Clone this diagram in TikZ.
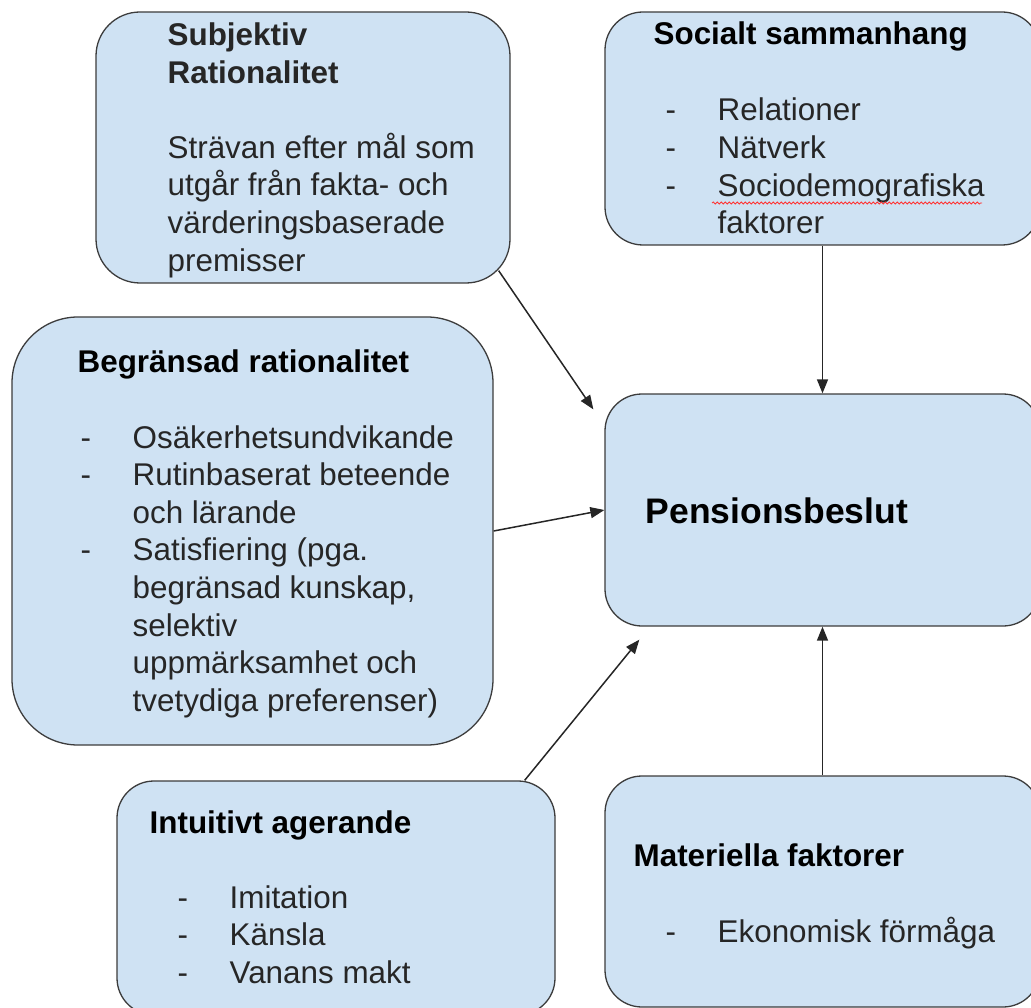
\documentclass[tikz,border=0pt]{standalone}
\usepackage{fontspec}
\setmainfont{Liberation Sans}
\usetikzlibrary{arrows.meta,decorations.pathmorphing}
\definecolor{boxfill}{HTML}{CFE2F3}
\definecolor{boxline}{HTML}{3C3C3C}
\definecolor{inkcol}{HTML}{262626}
\newcommand{\bul}{\makebox[52pt][l]{-}}
\newcommand{\ind}{\hspace*{52pt}}

\begin{document}
\begin{tikzpicture}[
        x=1pt, y=-1pt,
        line width=1.3pt,
        >={Triangle[length=14pt,width=11pt]}
    ]
    \tikzset{
        infobox/.style = {rectangle, draw=boxline, fill=boxfill, inner sep=0pt},
        boxtext/.style = {anchor=base west, inner sep=0pt, align=left, text=inkcol, font=\fontsize{31.4pt}{37.6pt}\selectfont},
        boxtitle/.style = {boxtext, text=black, font=\fontsize{31.4pt}{37.6pt}\selectfont\bfseries},
        link/.style = {->, draw=inkcol, line width=1.5pt},
    }
    \useasboundingbox (0,0) rectangle (1031,1008);
    \clip (0,0) rectangle (1031,1008);
    \node[infobox, rounded corners=44pt, minimum width=414pt, minimum height=271pt] (subj) at (303,147.5) {};
    \node[infobox, rounded corners=38pt, minimum width=435pt, minimum height=233pt] (soc) at (822.5,128.5) {};
    \node[infobox, rounded corners=66pt, minimum width=481pt, minimum height=428pt] (begr) at (252.5,531) {};
    \node[infobox, rounded corners=37pt, minimum width=435pt, minimum height=232pt] (pens) at (822.5,510) {};
    \node[infobox, rounded corners=37pt, minimum width=438pt, minimum height=234pt] (intu) at (336,898) {};
    \node[infobox, rounded corners=37pt, minimum width=435pt, minimum height=231pt] (mat) at (822.5,891.5) {};

    % multi-line nodes sit on the baseline of their last line
    \node[boxtext] (subjtxt) at (167,271.1) {\textbf{Subjektiv}\\\textbf{Rationalitet}\\[37.6pt]Strävan efter mål som\\utgår från fakta- och\\värderingsbaserade\\premisser};
    \node[boxtitle] (soctitle) at (653,45) {Socialt sammanhang};
    \node[boxtext] (soclist) at (665,233.8) {\bul Relationer\\\bul Nätverk\\\bul Sociodemografiska\\\ind faktorer};
    \node[boxtitle] (begrtitle) at (77,372.5) {Begränsad rationalitet};
    \node[boxtext] (begrlist) at (80,711.2) {\bul Osäkerhetsundvikande\\\bul Rutinbaserat beteende\\\ind och lärande\\\bul Satisfiering (pga.\\\ind begränsad kunskap,\\\ind selektiv\\\ind uppmärksamhet och\\\ind tvetydiga preferenser)};
    \node[boxtitle, font=\fontsize{35.5pt}{42pt}\selectfont\bfseries] (penstitle) at (645,523) {Pensionsbeslut};
    \node[boxtitle] (intutitle) at (149,833) {Intuitivt agerande};
    \node[boxtext] (intulist) at (177,983.2) {\bul Imitation\\\bul Känsla\\\bul Vanans makt};
    \node[boxtitle] (mattitle) at (633,866) {Materiella faktorer};
    \node[boxtext] (matlist) at (665,942) {\bul Ekonomisk förmåga};

    \draw[red!80, line width=0.8pt, decorate, decoration={snake, segment length=4pt, amplitude=1pt}] (712,203) -- (982,203);

    \draw[link] ([xshift=-12pt,yshift=13pt]subj.south east) -- ([xshift=-11pt,yshift=-16pt]pens.north west);
    \draw[link] (soc.south) -- (pens.north);
    \draw[link] (begr.east) -- (pens.west);
    \draw[link] ([xshift=-31pt]intu.north east) -- ([xshift=35pt,yshift=-13pt]pens.south west);
    \draw[link] (mat.north) -- (pens.south);
\end{tikzpicture}
\end{document}
